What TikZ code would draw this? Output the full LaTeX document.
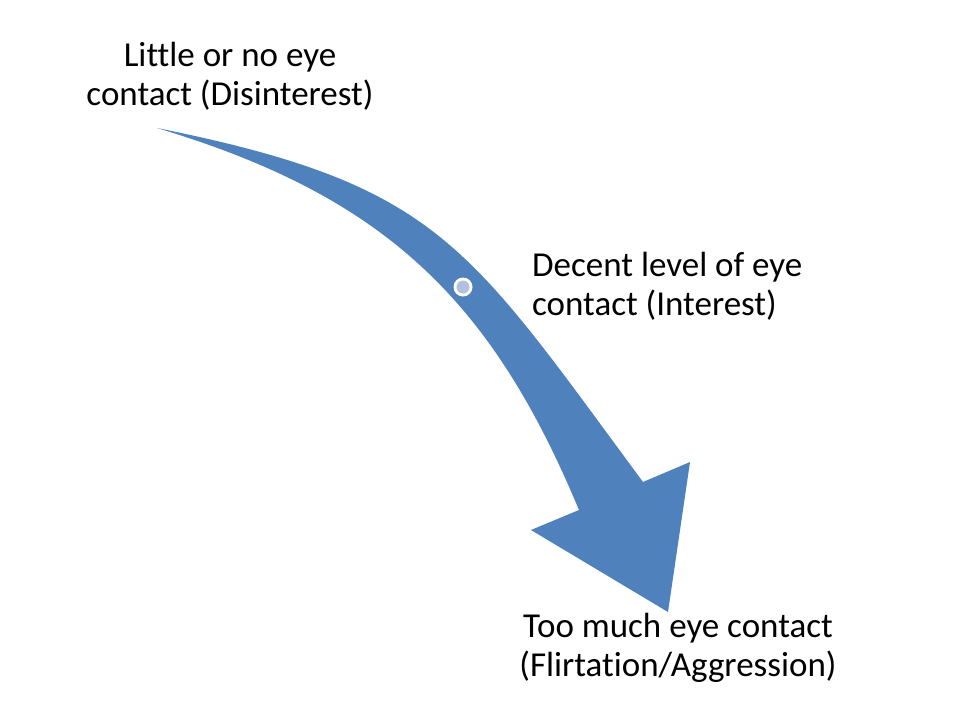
\documentclass[tikz,border=0pt]{standalone}
\usepackage{fontspec}
\setmainfont{Carlito}[Ligatures=NoCommon]
\definecolor{arrowblue}{HTML}{4F81BD}
\definecolor{dotfill}{HTML}{B4C0E0}
\begin{document}
\begin{tikzpicture}[x=1pt,y=-1pt,
  lbl/.style={inner sep=0pt,font=\fontsize{35}{39}\selectfont},
  ]
\useasboundingbox (0,0) rectangle (960,720);
\fill[white] (0,0) rectangle (960,720);
\coordinate (tail) at (157,128);
\coordinate (neckR) at (643,482);
\coordinate (barbR) at (690,462);
\coordinate (tip) at (668,612);
\coordinate (barbL) at (531,530);
\coordinate (neckL) at (579,510);
\fill[arrowblue] (tail) .. controls (440,185) and (467,244) .. (neckR)
  -- (barbR) -- (tip) -- (barbL) -- (neckL)
  .. controls (491,299) and (384,196) .. (tail) -- cycle;
\node[circle,fill=white,minimum size=19pt,inner sep=0pt] (dotring) at (463,287) {};
\node[circle,fill=dotfill,minimum size=13pt,inner sep=0pt] (dot) at (dotring.center) {};
\node[lbl,align=center,anchor=base] (t1) at (230,105) {Little or no eye\\contact (Disinterest)};
\node[lbl,align=left,anchor=base west] (t2) at (532,315) {Decent level of eye\\contact (Interest)};
\node[lbl,align=center,anchor=base] (t3) at (678,676) {Too much eye contact\\(Flirtation/Aggression)};
\end{tikzpicture}
\end{document}
